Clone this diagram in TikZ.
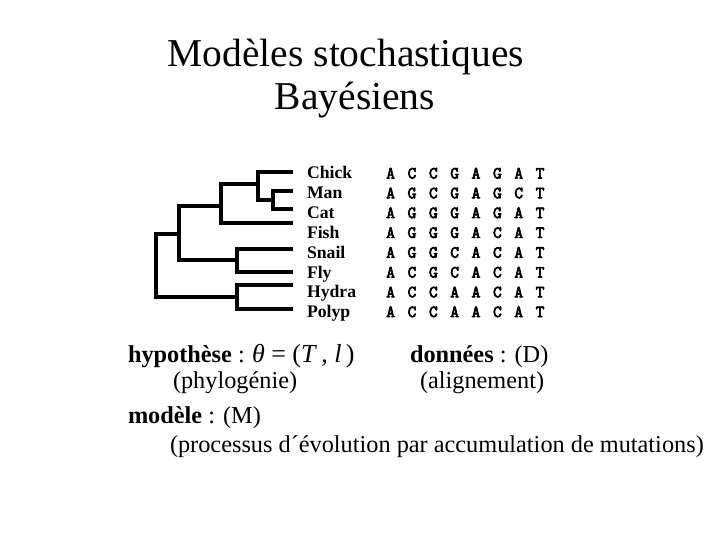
\documentclass[tikz,border=0pt]{standalone}
\usepackage{fontspec}
\setmainfont{Liberation Serif}
\newfontfamily\seqfont[FakeBold=4]{Latin Modern Mono}
\begin{document}
\begin{tikzpicture}[x=1pt,y=-1pt,
  txt/.style={anchor=base west,inner sep=0pt,outer sep=0pt},
  branch/.style={line width=4pt,line join=miter},
  leaf/.style={txt,font=\fontsize{17.7}{20}\selectfont\bfseries},
  seq/.style={anchor=base,inner sep=0pt,outer sep=0pt,font=\fontsize{17}{20}\selectfont\seqfont},
  big/.style={txt,font=\fontsize{24.3}{28}\selectfont},
  title/.style={anchor=base,inner sep=0pt,font=\fontsize{39.5}{44}\selectfont}]
\useasboundingbox (0,0) rectangle (720,540);
% title
\node[title] (t1) at (346,67) {Modèles stochastiques};
\node[title] (t2) at (355,110) {Bayésiens};
% tree coordinates
\coordinate (lChick) at (293,172);
\coordinate (lMan) at (293,191);
\coordinate (lCat) at (293,209.5);
\coordinate (lFish) at (293,223.5);
\coordinate (lSnail) at (293,248.5);
\coordinate (lFly) at (293,271.5);
\coordinate (lHydra) at (293,285);
\coordinate (lPolyp) at (293,308.5);
\coordinate (nMC) at (272.5,200);
\coordinate (nCMC) at (257.5,184);
\coordinate (nCMCF) at (220.5,206);
\coordinate (nSF) at (236.5,260);
\coordinate (nA) at (178.5,234);
\coordinate (nHP) at (236.5,296.7);
\coordinate (nRoot) at (156,265);
\draw[branch] (nMC) |- (lMan);
\draw[branch] (nMC) |- (lCat);
\draw[branch] (nCMC) |- (lChick);
\draw[branch] (nCMC) |- (nMC);
\draw[branch] (nCMCF) |- (nCMC);
\draw[branch] (nCMCF) |- (lFish);
\draw[branch] (nSF) |- (lSnail);
\draw[branch] (nSF) |- (lFly);
\draw[branch] (nA) |- (nCMCF);
\draw[branch] (nA) |- (nSF);
\draw[branch] (nHP) |- (lHydra);
\draw[branch] (nHP) |- (lPolyp);
\draw[branch] (nRoot) |- (nA);
\draw[branch] (nRoot) |- (nHP);
% labels and sequences
\foreach \name/\s [count=\i from 0] in {Chick/{A,C,C,G,A,G,A,T}, Man/{A,G,C,G,A,G,C,T}, Cat/{A,G,G,G,A,G,A,T}, Fish/{A,G,G,G,A,C,A,T}, Snail/{A,G,G,C,A,C,A,T}, Fly/{A,C,G,C,A,C,A,T}, Hydra/{A,C,C,A,A,C,A,T}, Polyp/{A,C,C,A,A,C,A,T}}{
  \node[leaf] (name\i) at (307,{179+19.8*\i}) {\name};
  \foreach \c [count=\j from 0] in \s {
    \node[seq] (seq\i-\j) at ({390.6+21.35*\j},{178.5+19.8*\i}) {\c};
  }
}
% bottom texts
\node[big] (hyp) at (128,362) {\textbf{hypothèse} :};
\node[big] (theta) at (252,362) {\fontsize{26}{28}\selectfont\textit{θ} = (\textit{T}\,, \textit{l}\,)};
\node[big] (phylo) at (173,388) {(phylogénie)};
\node[big] (don) at (410,362) {\textbf{données} : (D)};
\node[big] (align) at (420,388) {(alignement)};
\node[big] (mod) at (128,423) {\textbf{modèle} : (M)};
\node[big] (proc) at (170,452) {(processus d´évolution par accumulation de mutations)};
\end{tikzpicture}
\end{document}
